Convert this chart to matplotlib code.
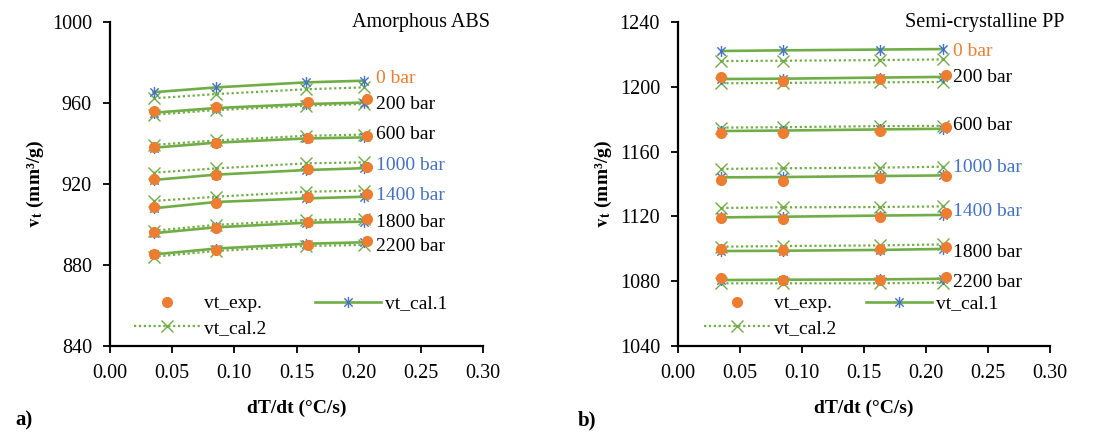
import matplotlib
matplotlib.use("Agg")
import matplotlib.pyplot as plt
from matplotlib.path import Path
from matplotlib.lines import Line2D

plt.rcParams['font.family'] = ['Liberation Serif', 'DejaVu Serif']
plt.rcParams['mathtext.fontset'] = 'stix'

# ---- data: a) amorphous ABS ----
pressures = ['0 bar', '200 bar', '600 bar', '1000 bar', '1400 bar', '1800 bar', '2200 bar']
label_colors = ['#ED7D31', 'black', 'black', '#4472C4', '#4472C4', 'black', 'black']

abs_rate_cal = [0.035, 0.085, 0.158, 0.204]
abs_rate_exp = [0.035, 0.085, 0.159, 0.207]
abs_exp = [None,
           [956.0, 958.2, 960.7, 962.0],
           [938.4, 940.1, 942.7, 943.9],
           [922.3, 924.4, 927.3, 928.2],
           [908.5, 910.5, 913.4, 915.1],
           [896.1, 898.3, 901.2, 902.9],
           [885.4, 887.4, 889.9, 892.0]]
abs_cal1 = [[965.3, 967.7, 970.2, 971.0],
            [955.2, 957.5, 959.5, 960.2],
            [937.9, 940.4, 942.5, 943.0],
            [922.0, 924.6, 926.9, 927.8],
            [908.0, 911.1, 912.9, 913.7],
            [895.7, 898.6, 900.9, 901.4],
            [885.2, 888.1, 890.5, 891.2]]
abs_cal2 = [[962.3, 964.4, 966.8, 967.7],
            [954.2, 956.5, 958.7, 959.5],
            [939.3, 941.5, 943.8, 944.4],
            [925.6, 927.7, 930.2, 930.7],
            [911.6, 913.7, 916.2, 916.7],
            [896.9, 899.8, 902.2, 902.7],
            [884.1, 886.9, 889.4, 889.9]]
abs_label_y = [972.3, 959.5, 944.2, 928.9, 914.1, 901.2, 888.9]

# ---- data: b) semi-crystalline PP ----
pp_rate_cal = [0.035, 0.085, 0.163, 0.214]
pp_rate_exp = [0.035, 0.085, 0.163, 0.216]
pp_exp = [None,
          [1205.9, 1203.6, 1205.0, 1207.1],
          [1171.3, 1171.3, 1172.7, 1175.4],
          [1142.5, 1141.7, 1143.5, 1144.9],
          [1118.8, 1118.2, 1119.8, 1121.9],
          [1099.7, 1099.3, 1099.7, 1101.3],
          [1082.2, 1080.7, 1080.7, 1082.4]]
pp_cal1 = [[1222.1, 1222.5, 1223.0, 1223.3],
           [1204.8, 1205.0, 1205.7, 1206.1],
           [1172.7, 1173.0, 1173.7, 1174.1],
           [1144.1, 1144.3, 1144.9, 1145.3],
           [1119.4, 1119.8, 1120.5, 1120.9],
           [1098.6, 1098.8, 1099.3, 1099.9],
           [1080.7, 1080.9, 1081.1, 1081.5]]
pp_cal2 = [[1215.9, 1216.1, 1216.5, 1216.9],
           [1202.2, 1202.4, 1202.8, 1203.0],
           [1174.8, 1175.1, 1175.7, 1175.9],
           [1149.3, 1149.7, 1150.1, 1150.7],
           [1125.2, 1125.6, 1125.8, 1126.2],
           [1101.3, 1101.7, 1102.1, 1102.7],
           [1078.7, 1078.7, 1078.7, 1079.1]]
pp_label_y = [1222.0, 1206.0, 1176.4, 1150.0, 1123.3, 1098.0, 1079.0]

green = '#70AD47'
blue = '#4472C4'
orange = '#ED7D31'

# Excel style star marker: x plus vertical bar
star = Path([(0, -1), (0, 1), (-0.75, -0.75), (0.75, 0.75), (-0.75, 0.75), (0.75, -0.75)],
            [Path.MOVETO, Path.LINETO, Path.MOVETO, Path.LINETO, Path.MOVETO, Path.LINETO])

fig = plt.figure(figsize=(10.99, 4.34), dpi=100)
ax1 = fig.add_axes([0.1001, 0.2028, 0.3394, 0.7465])
ax2 = fig.add_axes([0.6170, 0.2028, 0.3384, 0.7465])


def draw(ax, xc, xe, exp, cal1, cal2, lab_x, lab_y, ylim, yticks, title, title_x, leg_x, colsp):
    for i in range(len(pressures)):
        ax.plot(xc, cal2[i], color=green, lw=1.6, ls=(0, (1, 1.2)), marker='x',
                ms=8, mec=green, mew=1.0, zorder=2)
        ax.plot(xc, cal1[i], color=green, lw=1.9, ls='-', marker=star,
                ms=8, mec=blue, mew=1.0, zorder=3)
        if exp[i] is not None:
            ax.plot(xe, exp[i], ls='none', marker='o', ms=7, color=orange,
                    mec=orange, zorder=4)
        ax.text(lab_x, lab_y[i], pressures[i], color=label_colors[i], fontsize=14,
                ha='left', va='center')
    ax.set_xlim(0, 0.30)
    ax.set_ylim(*ylim)
    ax.set_xticks([0.00, 0.05, 0.10, 0.15, 0.20, 0.25, 0.30])
    ax.set_xticklabels(['0.00', '0.05', '0.10', '0.15', '0.20', '0.25', '0.30'])
    ax.set_yticks(yticks)
    ax.tick_params(direction='out', length=5, width=1.3, labelsize=14.5, colors='black')
    ax.tick_params(axis='x', pad=8)
    ax.tick_params(axis='y', pad=8)
    for s in ['top', 'right']:
        ax.spines[s].set_visible(False)
    for s in ['left', 'bottom']:
        ax.spines[s].set_linewidth(1.6)
    ax.set_xlabel('dT/dt (°C/s)', fontsize=14, fontweight='bold', labelpad=12)
    ax.set_ylabel(r'$\mathbf{v_t}$ (mm³/g)', fontsize=14, fontweight='bold', labelpad=4)
    ax.text(title_x, 1.0, title, transform=ax.transAxes, fontsize=14.5, ha='right', va='center')

    h_exp = Line2D([], [], ls='none', marker='o', ms=7, color=orange)
    h_c1 = Line2D([], [], color=green, lw=1.9, marker=star, ms=8, mec=blue, mew=1.0)
    h_c2 = Line2D([], [], color=green, lw=1.6, ls=(0, (1, 1.2)), marker='x', ms=8, mec=green, mew=1.0)
    ax.legend([h_exp, h_c2, h_c1], ['vt_exp.', 'vt_cal.2', 'vt_cal.1'], ncol=2,
              loc='upper left', bbox_to_anchor=(leg_x, 0.158), frameon=False,
              fontsize=14, numpoints=1, handlelength=3.4, handletextpad=0.2,
              columnspacing=colsp, borderpad=0, borderaxespad=0, labelspacing=0.36)


draw(ax1, abs_rate_cal, abs_rate_exp, abs_exp, abs_cal1, abs_cal2, 0.214, abs_label_y,
     (840, 1000), [840, 880, 920, 960, 1000], 'Amorphous ABS', 1.019, 0.065, 2.5)
draw(ax2, pp_rate_cal, pp_rate_exp, pp_exp, pp_cal1, pp_cal2, 0.222, pp_label_y,
     (1040, 1240), [1040, 1080, 1120, 1160, 1200, 1240], 'Semi-crystalline PP', 1.04, 0.07, 1.5)

fig.text(15 / 1099, 1 - 420 / 434, 'a)', fontsize=15, fontweight='bold', va='center')
fig.text(578 / 1099, 1 - 420 / 434, 'b)', fontsize=15, fontweight='bold', va='center')

fig.savefig('out.png', dpi=100)
